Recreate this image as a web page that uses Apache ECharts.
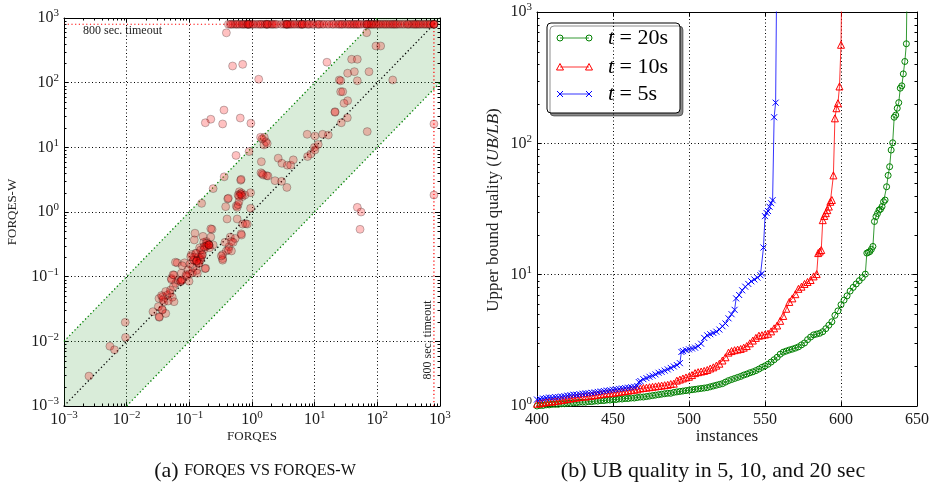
<!DOCTYPE html>
<html><head><meta charset="utf-8">
<script src="https://cdn.jsdelivr.net/npm/echarts@6/dist/echarts.min.js"></script>
<style>html,body{margin:0;padding:0;background:#fff}#c{width:932px;height:491px}</style>
</head><body><div id="c"></div>
<script>
// ---------------- data ----------------
const TIMEOUT = 800;
// (a) scatter: instances solved by both
const pairs = [
[0.39,590],[0.49,181],[0.71,192],[1.28,113],[0.357,37.7],[0.22,27.2],[0.18,24],[0.34,23],[0.65,28.4],[0.96,23.6],
[0.556,7.5],[0.9,8.6],[0.36,3.5],[0.24,2.3],[0.157,1.36],[0.41,1.6],
[1.37,14.3],[1.57,14.3],[1.67,12.2],[1.55,10.9],[1.75,11.5],[1.45,13.5],
[1.41,6.0],[2.62,6.8],[3.0,5.66],[3.66,5.3],[4.14,5.3],[4.56,6.4],[2.33,3.05],[3.6,2.4],[2.97,2.98],
[1.39,4.05],[1.51,3.73],[1.71,3.65],[1.8,3.6],[1.45,3.9],
[0.66,3.1],[0.67,3.2],[0.63,2.06],[0.68,1.97],[0.6,1.83],[0.77,1.83],[0.7,1.73],[0.95,1.99],[0.42,1.63],[0.38,1.21],
[0.56,1.24],[0.58,1.18],[0.95,1.14],[0.6,1.3],[0.62,1.45],[0.65,1.9],[0.68,1.85],[0.62,1.75],
[7.6,15.9],[10.1,15.0],[13.4,15.9],[16.5,15.5],[11.4,11.1],[9.9,10],[8.7,7.9],[7.7,7.2],[10.1,9.1],
[15.7,207],[21.1,34.8],[26,72.5],[24.7,110],[28,72.5],[33.6,52.6],[29.4,48],[21.1,35.6],[33.2,28.7],[26.6,24.0],[69,17.5],
[67.6,593],[95,369],[113,369],[38.9,230],[47.9,230],[33.6,140],[43,148],[73.6,148],[26,107],[47.9,107],[176,110],
[47.9,1.18],[55,1.0],[53,0.54],
[0.40,0.78],[0.79,0.66],[0.67,0.46],[0.58,0.78],[0.71,0.65],[0.84,0.65],[0.68,0.44],[0.45,0.41],[0.47,0.35],[0.43,0.29],
[0.39,0.25],[0.34,0.22],[0.34,0.19],[0.54,0.39],[0.5,0.34],[0.23,0.54],[0.22,0.55],[0.123,0.47],[0.37,0.34],[0.42,0.26],
[0.47,0.25],[0.34,0.18],
[0.187,0.35],[0.205,0.31],[0.17,0.34],[0.24,0.31],[0.146,0.28],[0.13,0.23],[0.155,0.2],[0.12,0.18],[0.14,0.16],[0.108,0.22],
[0.113,0.14],[0.13,0.125],[0.101,0.11],[0.178,0.133],[0.22,0.41],[0.165,0.42],[0.12,0.37],
[0.19,0.3],[0.2,0.32],[0.18,0.29],[0.21,0.28],[0.15,0.19],[0.14,0.2],[0.13,0.17],[0.16,0.22],[0.12,0.2],[0.17,0.26],
[0.19,0.33],[0.206,0.309],[0.131,0.175],[0.15,0.18],
[0.0263,0.0288],[0.0332,0.0235],[0.037,0.0305],[0.037,0.031],[0.032,0.0344],[0.0394,0.041],[0.0328,0.046],[0.0375,0.049],
[0.0446,0.052],[0.049,0.055],[0.0535,0.048],[0.057,0.041],[0.05,0.062],[0.0556,0.07],[0.0605,0.079],[0.066,0.089],
[0.0727,0.0837],[0.0727,0.085],[0.077,0.089],[0.075,0.088],[0.0516,0.094],[0.057,0.106],[0.064,0.164],[0.084,0.164],
[0.1025,0.157],[0.095,0.127],[0.112,0.115],[0.134,0.113],[0.182,0.135],[0.0745,0.113],[0.0906,0.102],[0.116,0.181],
[0.126,0.23],[0.152,0.258],[0.171,0.291],[0.206,0.309],[0.105,0.204],[0.143,0.161],[0.324,0.209],[0.131,0.175],[0.161,0.216],
[0.036,0.051],[0.042,0.059],[0.046,0.042],[0.038,0.044],[0.033,0.024],[0.042,0.027],[0.052,0.09],[0.055,0.107],
[0.089,0.107],[0.099,0.085],[0.06,0.167],[0.077,0.148],
[0.0095,0.0197],[0.0096,0.0115],[0.0054,0.0084],[0.0064,0.0074],[0.0025,0.0029]
];
// FORQES-W timed out (y = 800) at these FORQES times
const timeoutRowX = [0.42,0.45,0.5,0.54,0.6,0.69,0.75,0.86,0.86,0.93,1.0,1.15,1.34,1.5,1.73,1.73,2.0,2.2,2.5,2.9,3.2,3.6,3.6,
4.0,4.5,5.2,5.6,6.3,6.3,7.5,8.3,9.1,10.9,12,13.1,15.7,18.9,22,25.3,28,30.5,35,39.4,44,49,56,68,68,75,82,90,102,115,132,
150,171,190,213,250,297,330,357,400,445,500,575,650,720,
0.47,0.57,0.64,0.72,0.8,0.86,0.9,1.05,1.25,1.4,1.62,1.73,1.85,2.1,2.35,3.4,3.6,3.8,4.2,4.8,5.9,6.3,6.8,7.9,9.6,11.5,14,
17,20,24,27,33,37,42,47,52,62,68,72,79,86,96,108,124,140,160,180,200,230,270,310,380,420,470,540,610,690];
// FORQES timed out (x = 800) with these FORQES-W times
const timeoutColY = [23, 1.83, 800, 800, 800, 800];
const diagLine = [[0.001,0.001],[1000,1000]];
const upperEdge = [[0.001,0.01],[100,1000]];
const lowerEdge = [[0.01,0.001],[1000,100]];
const bandPoly = [[0.001,0.001],[0.001,0.01],[100,1000],[1000,1000],[1000,100],[0.01,0.001]];
const timeoutH = [[0.001,800],[1000,800]];
const timeoutV = [[800,0.001],[800,1000]];

// (b) upper bound quality curves [instance, UB/LB]
const t20 = [[400,1.00],[402,1.01],[404,1.01],[406,1.02],[408,1.02],[410,1.03],[412,1.03],[414,1.03],[416,1.04],[418,1.04],
[420,1.05],[422,1.05],[424,1.06],[426,1.06],[428,1.07],[430,1.07],[432,1.07],[434,1.08],[436,1.08],[438,1.09],[440,1.09],
[442,1.10],[444,1.10],[446,1.11],[448,1.11],[450,1.12],[452,1.12],[454,1.13],[456,1.13],[458,1.14],[460,1.14],[462,1.15],
[464,1.15],[466,1.16],[468,1.17],[470,1.17],[472,1.18],[474,1.19],[476,1.20],[478,1.21],[480,1.22],[482,1.23],[484,1.24],
[486,1.25],[488,1.25],[490,1.27],[492,1.28],[494,1.29],[496,1.30],[498,1.31],[500,1.32],[502,1.33],[504,1.34],[506,1.35],
[508,1.36],[510,1.37],[512,1.38],[514,1.40],[516,1.42],[518,1.44],[520,1.46],[522,1.48],[524,1.52],[526,1.56],[528,1.59],
[530,1.62],[532,1.65],[534,1.68],[536,1.72],[538,1.75],[540,1.79],[542,1.82],[544,1.86],[546,1.91],[548,1.97],[550,2.02],
[552,2.08],[554,2.16],[556,2.25],[558,2.35],[560,2.48],[562,2.57],[564,2.62],[566,2.67],[568,2.71],[570,2.76],[572,2.82],
[574,2.92],[576,3.02],[578,3.2],[580,3.35],[582,3.48],[584,3.53],[586,3.58],[588,3.68],[590,3.88],[592,4.12],[594,4.38],
[596,4.9],[598,5.3],[600,5.9],[602,6.4],[604,6.9],[606,7.5],[608,8.0],[610,8.5],[612,9.0],[614,9.5],[616,10.1],[617,14.6],
[618,14.8],[619,15.0],[620,15.6],[621,16.4],[622,25.4],[623,27.7],[624,29.2],[625,31],[626,31.5],[627,33],[628,35.9],
[629,37],[630,46.7],[631,57],[632,66.4],[633,88.9],[634,101],[635,158],[636,164],[637,185],[638,204],[639,263],[640,274],
[641,338],[642,420],[643,573],[644,5000]];
const t10 = [[400,1.04],[402,1.05],[404,1.06],[406,1.07],[408,1.08],[410,1.08],[412,1.09],[414,1.10],[416,1.11],[418,1.12],
[420,1.13],[422,1.14],[424,1.15],[426,1.16],[428,1.17],[430,1.18],[432,1.18],[434,1.19],[436,1.20],[438,1.21],[440,1.22],
[442,1.23],[444,1.24],[446,1.25],[448,1.25],[450,1.26],[452,1.27],[454,1.28],[456,1.29],[458,1.30],[460,1.31],[462,1.32],
[464,1.33],[466,1.34],[468,1.36],[470,1.37],[472,1.38],[474,1.39],[476,1.40],[478,1.41],[480,1.42],[482,1.43],[484,1.44],
[486,1.45],[488,1.47],[490,1.48],[492,1.56],[494,1.59],[496,1.62],[498,1.65],[500,1.67],[502,1.72],[504,1.78],[506,1.81],
[508,1.83],[510,1.85],[512,1.88],[514,1.93],[516,1.97],[518,2.03],[520,2.10],[522,2.22],[524,2.35],[526,2.55],[528,2.62],
[530,2.66],[532,2.69],[534,2.72],[536,2.78],[538,2.86],[540,3.0],[542,3.15],[544,3.3],[546,3.43],[548,3.46],[550,3.50],
[552,3.55],[554,3.7],[556,3.9],[558,4.1],[560,4.45],[562,4.85],[564,5.5],[566,6.2],[568,6.6],[570,7.1],[572,7.8],[574,8.1],
[576,8.5],[578,8.8],[580,9.1],[582,9.7],[584,10.1],[585,14.6],[586,15.0],[587,15.4],[588,26],[589,28],[590,29.4],[591,31],
[592,33],[593,35.9],[594,37],[595,57],[596,155],[597,185],[598,202],[599,271],[600,563],[601,5000]];
const t5 = [[400,1.12],[402,1.13],[404,1.14],[406,1.15],[408,1.16],[410,1.16],[412,1.17],[414,1.17],[416,1.18],[418,1.19],
[420,1.20],[422,1.21],[424,1.22],[426,1.22],[428,1.23],[430,1.24],[432,1.25],[434,1.25],[436,1.26],[438,1.27],[440,1.28],
[442,1.29],[444,1.30],[446,1.31],[448,1.32],[450,1.33],[452,1.34],[454,1.35],[456,1.36],[458,1.37],[460,1.38],[462,1.39],
[464,1.40],[466,1.42],[467,1.52],[468,1.55],[470,1.60],[472,1.63],[474,1.67],[476,1.70],[478,1.74],[480,1.79],[482,1.82],
[484,1.86],[486,1.90],[488,1.95],[490,2.00],[492,2.05],[494,2.12],[495,2.58],[496,2.62],[498,2.66],[500,2.70],[502,2.74],
[504,2.78],[506,2.85],[508,2.98],[510,3.30],[512,3.45],[514,3.52],[516,3.60],[518,3.68],[520,3.82],[522,4.05],[524,4.25],
[526,4.65],[528,5.0],[530,5.4],[531,6.6],[533,7.0],[535,7.6],[537,8.1],[539,8.5],[541,8.9],[543,9.2],[545,9.5],[547,9.9],
[548,10.2],[549,16.1],[550,27.9],[551,29.5],[552,30.5],[553,32.9],[554,35],[555,36.9],[556,158],[557,204],[558,5000]];
const legendLabels = ['20s','10s','5s'];

// ---------------- chart ----------------
const F = 'Liberation Serif';
const TXT = '#1a1a1a';
const chart = echarts.init(document.getElementById('c'), null, {renderer:'canvas'});

const supRich = {
  m:{fontFamily:F, fontSize:16, color:TXT, lineHeight:20},
  e:{fontFamily:F, fontSize:11, color:TXT, lineHeight:9, verticalAlign:'top'}
};
function supFmt(v){ const e = Math.round(Math.log10(v)); return '{m|10}{e|' + (e<0 ? '\u2212'+(-e) : e) + '}'; }

function minorList(lo, hi){ const out=[]; for(let k=lo;k<hi;k++){ for(let m=2;m<=9;m++) out.push(m*Math.pow(10,k)); } return out; }
function seg(x1,y1,x2,y2,c){ return {type:'line', shape:{x1,y1,x2,y2}, style:{stroke:c||'#000', lineWidth:1}}; }
function minorRender(xm, ym, xRef, yRef){
  return function(params, api){
    const cs = params.coordSys, ch=[];
    xm.forEach(v=>{ const p=Math.round(api.coord([v,yRef])[0])+0.5;
      ch.push(seg(p, cs.y+cs.height, p, cs.y+cs.height-2.5)); ch.push(seg(p, cs.y, p, cs.y+2.5)); });
    ym.forEach(v=>{ const p=Math.round(api.coord([xRef,v])[1])+0.5;
      ch.push(seg(cs.x, p, cs.x+2.5, p)); ch.push(seg(cs.x+cs.width, p, cs.x+cs.width-2.5, p)); });
    return {type:'group', children:ch};
  };
}

const dotted = [1,2.5];
function baseAxis(extra){
  return Object.assign({
    axisLine:{show:true, onZero:false, lineStyle:{color:'#000', width:1}},
    axisTick:{show:true, inside:true, length:4.5, lineStyle:{color:'#000'}},
    splitLine:{show:true, lineStyle:{color:'#000', type:dotted, width:1}},
  }, extra);
}
function mirrorAxis(extra){
  return Object.assign({
    axisLine:{show:true, onZero:false, lineStyle:{color:'#000', width:1}},
    axisTick:{show:true, inside:true, length:4.5, lineStyle:{color:'#000'}},
    axisLabel:{show:false}, splitLine:{show:false}
  }, extra);
}

const scatterData = pairs
  .concat(timeoutRowX.map(x=>[x, TIMEOUT]))
  .concat(timeoutColY.map(y=>[TIMEOUT, y]));

const xTickB = {fontFamily:F, fontSize:16, color:TXT, margin:6};

function legendGraphic(){
  const box = {type:'rect', shape:{x:547, y:23, width:133, height:90, r:4},
    style:{fill:'#fff', stroke:'#000', lineWidth:1, shadowColor:'rgba(0,0,0,0.45)', shadowOffsetX:3, shadowOffsetY:3, shadowBlur:0}};
  const rows = [38, 67, 94];
  const cols = ['rgba(0,128,0,0.8)','rgba(255,0,0,0.8)','rgba(0,0,255,0.8)'];
  const mk = ['#008000','#ff0000','#0000ff'];
  const ch = [box];
  rows.forEach((y,i)=>{
    ch.push({type:'line', shape:{x1:560,y1:y,x2:589,y2:y}, style:{stroke:cols[i], lineWidth:1}});
    [560,589].forEach(x=>{
      if(i===0) ch.push({type:'circle', shape:{cx:x,cy:y,r:3}, style:{fill:'none', stroke:mk[i], lineWidth:1}});
      else if(i===1) ch.push({type:'polygon', shape:{points:[[x,y-3.5],[x+3.5,y+3],[x-3.5,y+3]]}, style:{fill:'none', stroke:mk[i], lineWidth:1}});
      else { ch.push(seg(x-3,y-3,x+3,y+3,mk[i])); ch.push(seg(x-3,y+3,x+3,y-3,mk[i])); }
    });
    ch.push({type:'text', x:608, y:y, style:{text:'{i|t} = '+legendLabels[i], verticalAlign:'middle',
      rich:{i:{fontFamily:F, fontStyle:'italic', fontSize:22, fill:'#000'}}, font:'22px "Liberation Serif"', fill:'#000'}});
  });
  return {type:'group', children:ch, z:100};
}

const option = {
  animation:false,
  backgroundColor:'#fff',
  grid:[{left:64, top:18, width:376, height:388}, {left:537, top:12, width:381, height:394}],
  xAxis:[
    baseAxis({gridIndex:0, type:'log', logBase:10, min:0.001, max:1000, splitNumber:6,
      axisLabel:{formatter:supFmt, rich:supRich, margin:4}}),
    mirrorAxis({gridIndex:0, type:'log', logBase:10, min:0.001, max:1000, position:'top'}),
    baseAxis({gridIndex:1, type:'value', min:400, max:650, interval:50, axisLabel:xTickB}),
    mirrorAxis({gridIndex:1, type:'value', min:400, max:650, interval:50, position:'top'})
  ],
  yAxis:[
    baseAxis({gridIndex:0, type:'log', logBase:10, min:0.001, max:1000, splitNumber:6,
      axisLabel:{formatter:supFmt, rich:supRich, margin:5}}),
    mirrorAxis({gridIndex:0, type:'log', logBase:10, min:0.001, max:1000, position:'right'}),
    baseAxis({gridIndex:1, type:'log', logBase:10, min:1, max:1000, splitNumber:3,
      axisLabel:{formatter:supFmt, rich:supRich, margin:5}}),
    mirrorAxis({gridIndex:1, type:'log', logBase:10, min:1, max:1000, position:'right'})
  ],
  series:[
    {type:'custom', xAxisIndex:0, yAxisIndex:0, silent:true, z:1, data:[[1,1]],
      renderItem:(params, api)=>({type:'polygon', shape:{points:bandPoly.map(p=>api.coord(p))}, style:{fill:'rgba(0,128,0,0.15)'}})},
    {type:'custom', xAxisIndex:0, yAxisIndex:0, silent:true, z:5, data:[[1,1]],
      renderItem:minorRender(minorList(-3,3), minorList(-3,3), 1, 1)},
    {type:'custom', xAxisIndex:2, yAxisIndex:2, silent:true, z:5, data:[[500,10]],
      renderItem:minorRender([], minorList(0,3), 500, 10)},
    {type:'line', xAxisIndex:0, yAxisIndex:0, data:upperEdge, symbol:'none', silent:true, z:2,
      lineStyle:{color:'#008000', width:1.3, type:[1.3,2.5]}},
    {type:'line', xAxisIndex:0, yAxisIndex:0, data:lowerEdge, symbol:'none', silent:true, z:2,
      lineStyle:{color:'#008000', width:1.3, type:[1.3,2.5]}},
    {type:'line', xAxisIndex:0, yAxisIndex:0, data:diagLine, symbol:'none', silent:true, z:2,
      lineStyle:{color:'#000', width:1.3, type:[1.3,2.5]}},
    {type:'line', xAxisIndex:0, yAxisIndex:0, data:timeoutH, symbol:'none', silent:true, z:2,
      lineStyle:{color:'#ff0000', width:1.2, type:[1.2,2.5]}},
    {type:'line', xAxisIndex:0, yAxisIndex:0, data:timeoutV, symbol:'none', silent:true, z:2,
      lineStyle:{color:'#ff0000', width:1.2, type:[1.2,2.5]}},
    {type:'scatter', xAxisIndex:0, yAxisIndex:0, data:scatterData, symbol:'circle', symbolSize:8, z:3, silent:true,
      itemStyle:{color:'rgba(255,0,0,0.3)', borderColor:'rgba(0,0,0,0.3)', borderWidth:1}},
    {type:'line', name:'t = 20s', xAxisIndex:2, yAxisIndex:2, data:t20, symbol:'circle', symbolSize:6, showAllSymbol:true,
      silent:true, z:3, lineStyle:{color:'rgba(0,128,0,0.8)', width:1},
      itemStyle:{color:'rgba(0,0,0,0)', borderColor:'#008000', borderWidth:1}},
    {type:'line', name:'t = 10s', xAxisIndex:2, yAxisIndex:2, data:t10, symbol:'triangle', symbolSize:7, showAllSymbol:true,
      silent:true, z:3, lineStyle:{color:'rgba(255,0,0,0.8)', width:1},
      itemStyle:{color:'rgba(0,0,0,0)', borderColor:'#ff0000', borderWidth:1}},
    {type:'line', name:'t = 5s', xAxisIndex:2, yAxisIndex:2, data:t5, symbol:'path://M0,0L10,10M0,10L10,0', symbolSize:6,
      showAllSymbol:true, silent:true, z:3, lineStyle:{color:'rgba(0,0,255,0.8)', width:1},
      itemStyle:{color:'#0000ff', borderColor:'#0000ff', borderWidth:1}}
  ],
  graphic:[
    {type:'text', left:83, top:25, style:{text:'800 sec. timeout', font:'12px "Liberation Serif"', fill:'#222'}},
    {type:'text', x:428, y:340, rotation:Math.PI/2, style:{text:'800 sec. timeout', font:'12px "Liberation Serif"', fill:'#222', align:'center', verticalAlign:'middle'}},
    {type:'text', x:252, y:437, style:{text:'FORQES', font:'13px "Liberation Serif"', fill:'#222', align:'center', verticalAlign:'middle'}},
    {type:'text', x:13, y:212, rotation:Math.PI/2, style:{text:'FORQES-W', font:'13px "Liberation Serif"', fill:'#222', align:'center', verticalAlign:'middle'}},
    {type:'text', x:727, y:437, style:{text:'instances', font:'17px "Liberation Serif"', fill:'#222', align:'center', verticalAlign:'middle'}},
    {type:'text', x:494, y:210, rotation:Math.PI/2, style:{text:'Upper bound quality ({i|UB/LB})', align:'center', verticalAlign:'middle',
      font:'17px "Liberation Serif"', fill:'#222', rich:{i:{fontFamily:F, fontStyle:'italic', fontSize:17, fill:'#222'}}}},
    {type:'text', x:255, y:471, style:{text:'(a) {s|FORQES VS FORQES-W}', align:'center', verticalAlign:'middle',
      font:'22px "Liberation Serif"', fill:'#111', rich:{s:{fontFamily:F, fontSize:16, fill:'#111'}}}},
    {type:'text', x:713, y:471, style:{text:'(b) UB quality in 5, 10, and 20 sec', align:'center', verticalAlign:'middle',
      font:'22px "Liberation Serif"', fill:'#111'}},
    legendGraphic()
  ]
};
chart.setOption(option);
</script>
</body></html>
